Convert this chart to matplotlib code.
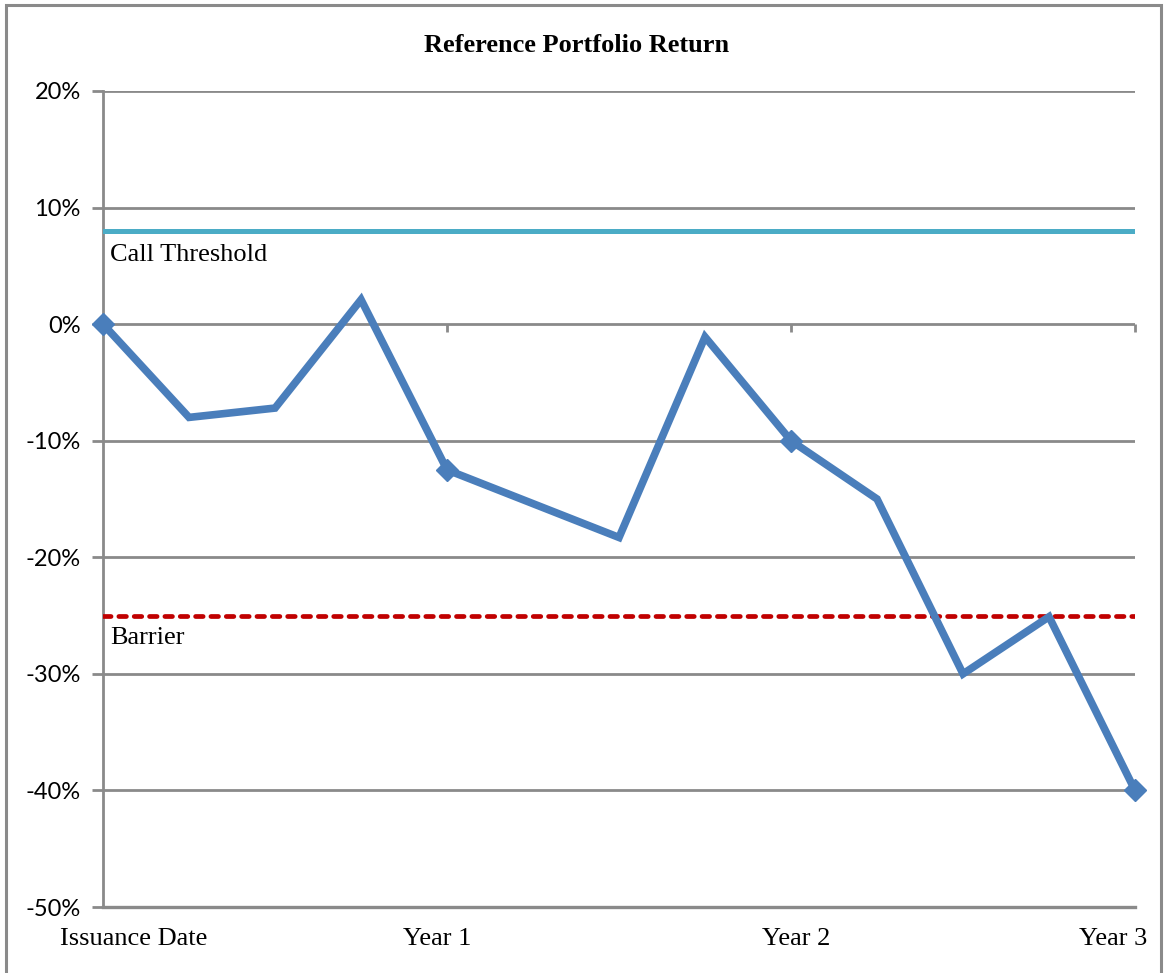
import matplotlib
matplotlib.use('Agg')
import matplotlib.pyplot as plt
from matplotlib.patches import Rectangle
from matplotlib.transforms import ScaledTranslation

# data
periods = [0, 1, 2, 3, 4, 6, 7, 8, 9, 10, 11, 12]
returns = [0.0, -0.080, -0.072, 0.021, -0.125, -0.183, -0.011, -0.100, -0.150, -0.300, -0.251, -0.400]
year_periods = [0, 4, 8, 12]
year_returns = [0.0, -0.125, -0.100, -0.400]
year_labels = ['Issuance Date', 'Year 1', 'Year 2', 'Year 3']
call_threshold = 0.08
barrier = -0.25
y_ticks = [0.2, 0.1, 0.0, -0.1, -0.2, -0.3, -0.4, -0.5]

serif = 'Liberation Serif'
sans = 'Lato'
grid_col = '#8a8a8a'

fig = plt.figure(figsize=(11.67, 9.73), dpi=100)
ax = fig.add_axes([0.0883, 0.0678, 0.8843, 0.8387])

# outer chart border
fig.patches.append(Rectangle((0.005, -0.01), 0.99, 1.005, transform=fig.transFigure,
                             fill=False, edgecolor='#8a8a8a', linewidth=2.2))

ax.set_xlim(0, 12)
ax.set_ylim(-0.5, 0.2)
ax.set_yticks(y_ticks)
ax.set_yticklabels([f'{int(round(v * 100))}%' for v in y_ticks], fontfamily=sans, fontsize=17)
ax.set_xticks(year_periods)
ax.set_xticklabels(year_labels, fontfamily=serif, fontsize=19)
ax.tick_params(axis='x', length=0, pad=15)
ax.tick_params(axis='y', length=8, width=2, color=grid_col, pad=8)

# Excel nudges the category labels a little
shifts = [22, -7, 4, -16]
for lbl, dx in zip(ax.get_xticklabels(), shifts):
    lbl.set_transform(lbl.get_transform() + ScaledTranslation(dx / 72, 0, fig.dpi_scale_trans))

for sp in ['top', 'right']:
    ax.spines[sp].set_visible(False)
ax.spines['left'].set_color(grid_col)
ax.spines['left'].set_linewidth(2)
ax.spines['bottom'].set_color(grid_col)
ax.spines['bottom'].set_linewidth(2.4)

ax.grid(axis='y', color=grid_col, linewidth=2)
ax.set_axisbelow(True)

# tick marks on the zero line
sec = ax.secondary_xaxis(0.5 / 0.7)
sec.set_xticks(year_periods[1:])
sec.set_xticklabels([])
sec.tick_params(length=6, width=2, color=grid_col, direction='in')
for sp in sec.spines.values():
    sp.set_visible(False)

ax.axhline(call_threshold, color='#4BACC6', linewidth=3.6, zorder=3)
ax.axhline(barrier, color='#C00000', linewidth=3.4, linestyle=(0, (1.6, 1.65)),
           dash_capstyle='round', zorder=3)
ax.text(0.08, 0.0593, 'Call Threshold', fontfamily=serif, fontsize=19,
        va='center', ha='left')
ax.text(0.08, -0.269, 'Barrier', fontfamily=serif, fontsize=19, va='center', ha='left')

ax.plot(periods, returns, color='#4A7EBB', linewidth=5.5, zorder=4, clip_on=False,
        solid_joinstyle='miter')
ax.plot(year_periods, year_returns, linestyle='none', marker='D', markersize=11,
        color='#4A7EBB', zorder=5, clip_on=False)

fig.text(0.494, 0.953, 'Reference Portfolio Return', fontfamily=serif, fontsize=19,
         fontweight='bold', ha='center', va='center')

fig.savefig('out.png', dpi=100, facecolor='white')
